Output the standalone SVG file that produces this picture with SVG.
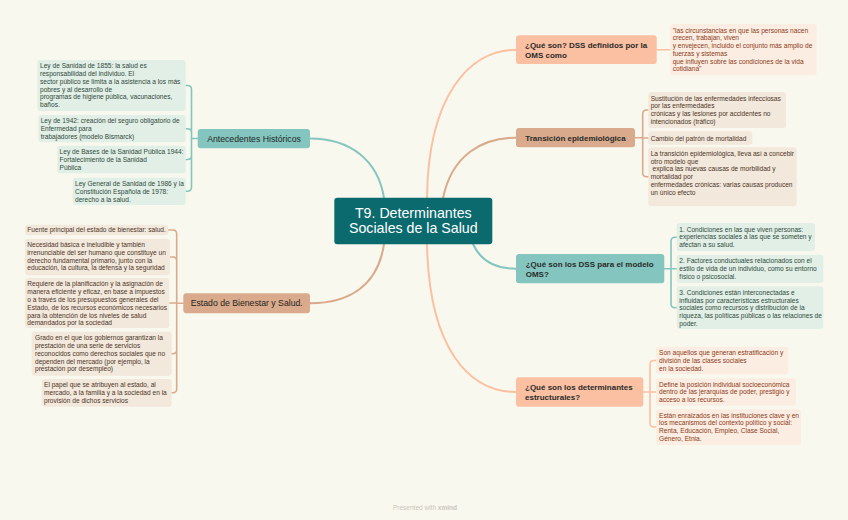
<svg xmlns="http://www.w3.org/2000/svg" width="848" height="520" viewBox="0 0 848 520">
<style>
text{font-family:"Liberation Sans",Arial,sans-serif}
.leaf{font-size:6.6px}
.lt{fill:#2f4a3c}.lb{fill:#4b3527}.ls{fill:#8a3b20}
.rt{fill:#e2efe6}.rb{fill:#f3e8dc}.rs{fill:#fcede2}
.nt{fill:#84c6bf}.nb{fill:#d9aa8b}.ns{fill:#fbc0a1}
.nl{font-size:8.7px;fill:#1f1f1f;text-anchor:middle}
.nr{font-size:8px;font-weight:bold;fill:#2a2a2a}
.ct{stroke:#84c6bf}.cb{stroke:#d9aa8b}.cs{stroke:#fbc0a1}
#connectors path{fill:none;stroke-width:1.6;stroke-linecap:round}
#connectors .main{stroke-width:2}
</style>
<rect width="848" height="520" fill="#f9f8ee"/>
<g id="connectors">
<path class="main ct" d="M384 198 C378 160 350 138.5 310 138.5"/>
<path class="main cb" d="M384 244 C378 285 350 303.3 310 303.3"/>
<path class="main cs" d="M427 198 C428 95 470 49.7 516 49.7"/>
<path class="main cb" d="M443 198 C452 155 482 137.7 516 137.7"/>
<path class="main ct" d="M473 244 C481 262 496 268.7 516 268.7"/>
<path class="main cs" d="M427 244 C429 350 470 392 516 392"/>
<path class="ct" d="M197.7 138.5 H191.5 M186 85.5 H187.5 Q191.5 85.5 191.5 89.5 V187.3 Q191.5 191.3 187.5 191.3 H186 M186 128.7 H187.5 Q191.5 128.7 191.5 132.7 M186 159.5 H187.5 Q191.5 159.5 191.5 155.5"/>
<path class="cb" d="M183.3 303.3 H176.7 M168.3 230 H172.7 Q176.7 230 176.7 234 V388.8 Q176.7 392.8 172.7 392.8 H171.7 M170 257 H172.7 Q176.7 257 176.7 261 M169.3 303 H176.7 M171.7 353.7 H172.7 Q176.7 353.7 176.7 349.7"/>
<path class="cs" d="M656.7 49.7 H670"/>
<path class="cb" d="M635 137.7 H642.7 M648.3 110 H646.7 Q642.7 110 642.7 114 V172.8 Q642.7 176.8 646.7 176.8 H648.3 M648.3 138 H642.7"/>
<path class="ct" d="M664.3 268.7 H671 M676.7 237.2 H675 Q671 237.2 671 241.2 V303.7 Q671 307.7 675 307.7 H676.7 M676.7 268.8 H671"/>
<path class="cs" d="M643.3 392 H650 M656 360.5 H654 Q650 360.5 650 364.5 V423 Q650 427 654 427 H656 M656 392 H650"/>
</g>
<g id="central">
<rect x="334.3" y="197.7" width="158" height="46.6" rx="3" fill="#0b6a6e"/>
<text x="413.3" y="217.6" font-size="14.2" fill="#ffffff" text-anchor="middle">T9. Determinantes</text>
<text x="413.3" y="233.4" font-size="14.2" fill="#ffffff" text-anchor="middle">Sociales de la Salud</text>
</g>
<g id="antecedentes">
<rect class="nt" x="197.7" y="129" width="112.3" height="19.3" rx="3"/>
<text class="nl" x="254" y="141.6">Antecedentes Históricos</text>
</g>
<g id="ant-1">
<rect class="rt" x="37.3" y="60" width="148.4" height="51" rx="3"/>
<text class="leaf lt" x="40" y="68.3"><tspan x="40">Ley de Sanidad de 1855: la salud es</tspan><tspan x="40" dy="7.75">responsabilidad del individuo. El</tspan><tspan x="40" dy="7.75">sector público se limita a la asistencia a los más</tspan><tspan x="40" dy="7.75">pobres y al desarrollo de</tspan><tspan x="40" dy="7.75">programas de higiene pública, vacunaciones,</tspan><tspan x="40" dy="7.75">baños.</tspan></text>
</g>
<g id="ant-2">
<rect class="rt" x="38.3" y="115" width="147.4" height="27.3" rx="3"/>
<text class="leaf lt" x="40.7" y="123.2"><tspan x="40.7">Ley de 1942: creación del seguro obligatorio de</tspan><tspan x="40.7" dy="7.8">Enfermedad para</tspan><tspan x="40.7" dy="7.8">trabajadores (modelo Bismarck)</tspan></text>
</g>
<g id="ant-3">
<rect class="rt" x="57.3" y="145.7" width="128.4" height="27.6" rx="3"/>
<text class="leaf lt" x="59.6" y="154.2"><tspan x="59.6">Ley de Bases de la Sanidad Pública 1944:</tspan><tspan x="59.6" dy="7.8">Fortalecimiento de la Sanidad</tspan><tspan x="59.6" dy="7.8">Pública</tspan></text>
</g>
<g id="ant-4">
<rect class="rt" x="72.7" y="177.7" width="113" height="27.3" rx="3"/>
<text class="leaf lt" x="75" y="186"><tspan x="75">Ley General de Sanidad de 1986 y la</tspan><tspan x="75" dy="7.8">Constitución Española de 1978:</tspan><tspan x="75" dy="7.8">derecho a la salud.</tspan></text>
</g>
<g id="estado">
<rect class="nb" x="183.3" y="293.3" width="126.7" height="20" rx="3"/>
<text class="nl" x="246.7" y="306.4">Estado de Bienestar y Salud.</text>
</g>
<g id="est-1">
<rect class="rb" x="25" y="224.7" width="143.3" height="10.6" rx="3"/>
<text class="leaf lb" x="27.3" y="232.2">Fuente principal del estado de bienestar: salud.</text>
</g>
<g id="est-2">
<rect class="rb" x="25" y="238.7" width="145" height="36.6" rx="3"/>
<text class="leaf lb" x="27.3" y="247"><tspan x="27.3">Necesidad básica e ineludible y también</tspan><tspan x="27.3" dy="7.8">irrenunciable del ser humano que constituye un</tspan><tspan x="27.3" dy="7.8">derecho fundamental primario, junto con la</tspan><tspan x="27.3" dy="7.8">educación, la cultura, la defensa y la seguridad</tspan></text>
</g>
<g id="est-3">
<rect class="rb" x="25" y="278" width="144.3" height="50" rx="3"/>
<text class="leaf lb" x="27.3" y="286.3"><tspan x="27.3">Requiere de la planificación y la asignación de</tspan><tspan x="27.3" dy="7.8">manera eficiente y eficaz, en base a impuestos</tspan><tspan x="27.3" dy="7.8">o a través de los presupuestos generales del</tspan><tspan x="27.3" dy="7.8">Estado, de los recursos económicos necesarios</tspan><tspan x="27.3" dy="7.8">para la obtención de los niveles de salud</tspan><tspan x="27.3" dy="7.8">demandados por la sociedad</tspan></text>
</g>
<g id="est-4">
<rect class="rb" x="31.7" y="331.7" width="140" height="44" rx="3"/>
<text class="leaf lb" x="35" y="340.2"><tspan x="35">Grado en el que los gobiernos garantizan la</tspan><tspan x="35" dy="7.8">prestación de una serie de servicios</tspan><tspan x="35" dy="7.8">reconocidos como derechos sociales que no</tspan><tspan x="35" dy="7.8">dependen del mercado (por ejemplo, la</tspan><tspan x="35" dy="7.8">prestación por desempleo)</tspan></text>
</g>
<g id="est-5">
<rect class="rb" x="41.7" y="379" width="130" height="27.7" rx="3"/>
<text class="leaf lb" x="44" y="387.3"><tspan x="44">El papel que se atribuyen al estado, al</tspan><tspan x="44" dy="7.8">mercado, a la familia y a la sociedad en la</tspan><tspan x="44" dy="7.8">provisión de dichos servicios</tspan></text>
</g>
<g id="dss-oms">
<rect class="ns" x="516" y="35.3" width="140.7" height="28.7" rx="3"/>
<text class="nr" x="525" y="47.5"><tspan x="525">¿Qué son? DSS definidos por la</tspan><tspan x="525" dy="10">OMS como</tspan></text>
</g>
<g id="dss-oms-1">
<rect class="rs" x="670" y="24" width="146.7" height="51.3" rx="3"/>
<text class="leaf ls" x="672.7" y="32.5"><tspan x="672.7">"las circunstancias en que las personas nacen</tspan><tspan x="672.7" dy="7.75">crecen, trabajan, viven</tspan><tspan x="672.7" dy="7.75">y envejecen, incluido el conjunto más amplio de</tspan><tspan x="672.7" dy="7.75">fuerzas y sistemas</tspan><tspan x="672.7" dy="7.75">que influyen sobre las condiciones de la vida</tspan><tspan x="672.7" dy="7.75">cotidiana"</tspan></text>
</g>
<g id="transicion">
<rect class="nb" x="516" y="128" width="119" height="19.3" rx="3"/>
<text class="nr" x="575.5" y="140.6" text-anchor="middle">Transición epidemiológica</text>
</g>
<g id="tra-1">
<rect class="rb" x="648.3" y="92" width="137.7" height="36" rx="3"/>
<text class="leaf lb" x="650.7" y="100.5"><tspan x="650.7">Sustitución de las enfermedades infecciosas</tspan><tspan x="650.7" dy="7.8">por las enfermedades</tspan><tspan x="650.7" dy="7.8">crónicas y las lesiones por accidentes no</tspan><tspan x="650.7" dy="7.8">intencionados (tráfico)</tspan></text>
</g>
<g id="tra-2">
<rect class="rb" x="648.3" y="131.3" width="104" height="13.4" rx="3"/>
<text class="leaf lb" x="650.7" y="140.5">Cambio del patrón de mortalidad</text>
</g>
<g id="tra-3">
<rect class="rb" x="648.3" y="147.3" width="148.4" height="59" rx="3"/>
<text class="leaf lb" x="650.7" y="155.8"><tspan x="650.7">La transición epidemiológica, lleva así a concebir</tspan><tspan x="650.7" dy="7.8">otro modelo que</tspan><tspan x="650.7" dy="7.8"> explica las nuevas causas de morbilidad y</tspan><tspan x="650.7" dy="7.8">mortalidad por</tspan><tspan x="650.7" dy="7.8">enfermedades crónicas: varias causas producen</tspan><tspan x="650.7" dy="7.8">un único efecto</tspan></text>
</g>
<g id="dss-modelo">
<rect class="nt" x="516" y="254" width="148.3" height="29.3" rx="3"/>
<text class="nr" x="525.7" y="266.5"><tspan x="525.7">¿Qué son los DSS para el modelo</tspan><tspan x="525.7" dy="10">OMS?</tspan></text>
</g>
<g id="mod-1">
<rect class="rt" x="676.7" y="223" width="138.3" height="28.3" rx="3"/>
<text class="leaf lt" x="679.3" y="231.5"><tspan x="679.3">1. Condiciones en las que viven personas:</tspan><tspan x="679.3" dy="7.8">experiencias sociales a las que se someten y</tspan><tspan x="679.3" dy="7.8">afectan a su salud.</tspan></text>
</g>
<g id="mod-2">
<rect class="rt" x="676.7" y="254.7" width="146.6" height="28.3" rx="3"/>
<text class="leaf lt" x="679.3" y="263.1"><tspan x="679.3">2. Factores conductuales relacionados con el</tspan><tspan x="679.3" dy="7.8">estilo de vida de un individuo, como su entorno</tspan><tspan x="679.3" dy="7.8">físico o psicosocial.</tspan></text>
</g>
<g id="mod-3">
<rect class="rt" x="676.7" y="286.3" width="146.6" height="42.7" rx="3"/>
<text class="leaf lt" x="679.3" y="294.7"><tspan x="679.3">3. Condiciones están interconectadas e</tspan><tspan x="679.3" dy="7.8">influidas por características estructurales</tspan><tspan x="679.3" dy="7.8">sociales como recursos y distribución de la</tspan><tspan x="679.3" dy="7.8">riqueza, las políticas públicas o las relaciones de</tspan><tspan x="679.3" dy="7.8">poder.</tspan></text>
</g>
<g id="estructurales">
<rect class="ns" x="516" y="377.3" width="127.3" height="29.4" rx="3"/>
<text class="nr" x="525" y="389.8"><tspan x="525">¿Qué son los determinantes</tspan><tspan x="525" dy="10">estructurales?</tspan></text>
</g>
<g id="estr-1">
<rect class="rs" x="656" y="346.7" width="132.3" height="27.6" rx="3"/>
<text class="leaf ls" x="659" y="355"><tspan x="659">Son aquellos que generan estratificación y</tspan><tspan x="659" dy="7.8">división de las clases sociales</tspan><tspan x="659" dy="7.8">en la sociedad.</tspan></text>
</g>
<g id="estr-2">
<rect class="rs" x="656" y="378.3" width="140" height="27.4" rx="3"/>
<text class="leaf ls" x="659" y="386.6"><tspan x="659">Define la posición individual socioeconómica</tspan><tspan x="659" dy="7.8">dentro de las jerarquías de poder, prestigio y</tspan><tspan x="659" dy="7.8">acceso a los recursos.</tspan></text>
</g>
<g id="estr-3">
<rect class="rs" x="656" y="409.3" width="145" height="35.7" rx="3"/>
<text class="leaf ls" x="659" y="417.6"><tspan x="659">Están enraizados en las instituciones clave y en</tspan><tspan x="659" dy="7.8">los mecanismos del contexto político y social:</tspan><tspan x="659" dy="7.8">Renta, Educación, Empleo, Clase Social,</tspan><tspan x="659" dy="7.8">Género, Etnia.</tspan></text>
</g>
<text x="393" y="509.5" font-size="6.5" fill="#c9c6bd">Presented with <tspan font-weight="bold">xmind</tspan></text>
</svg>
